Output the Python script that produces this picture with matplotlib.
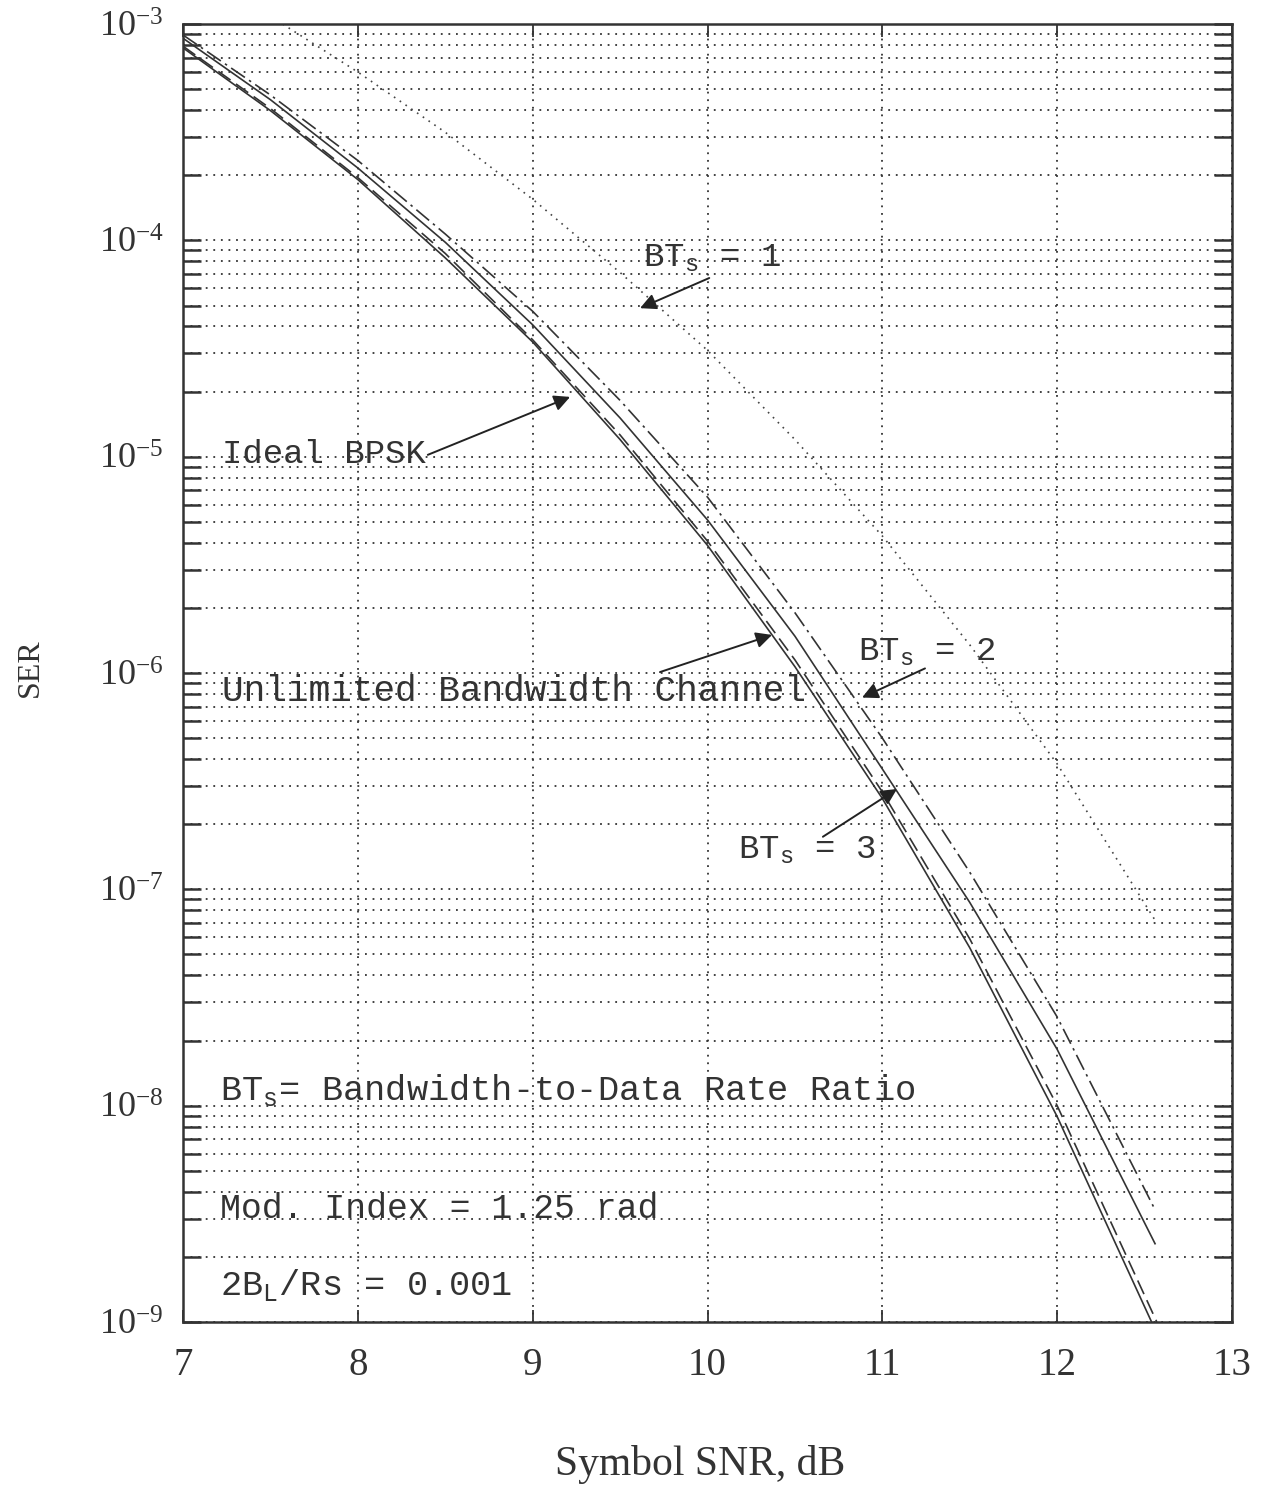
import numpy as np
import matplotlib
matplotlib.use('Agg')
import matplotlib.pyplot as plt
import matplotlib.ticker as mticker

plt.rcParams['font.family'] = ['Liberation Serif', 'DejaVu Serif']
plt.rcParams['mathtext.fontset'] = 'custom'
plt.rcParams['mathtext.rm'] = 'Liberation Serif'
plt.rcParams['axes.unicode_minus'] = False

# 曲线数据 (Symbol SNR dB -> SER)
snr = [7, 7.5, 8, 8.5, 9, 9.5, 10, 10.5, 11, 11.5, 12]
snr_ideal = snr + [12.54]
ser_ideal = [7.76e-4, 3.98e-4, 1.91e-4, 8.3e-5, 3.39e-5, 1.20e-5, 3.89e-6, 1.07e-6,
             2.63e-7, 5.37e-8, 8.9e-9, 1.0e-9]
snr_unlim = snr + [12.57]
ser_unlim = [7.9e-4, 4.07e-4, 1.95e-4, 8.7e-5, 3.47e-5, 1.26e-5, 4.07e-6, 1.15e-6,
             2.82e-7, 5.9e-8, 1.0e-8, 1.0e-9]
snr_bt3 = snr + [12.56]
ser_bt3 = [8.6e-4, 4.47e-4, 2.16e-4, 9.8e-5, 4.07e-5, 1.51e-5, 5.1e-6, 1.48e-6,
           3.6e-7, 8.7e-8, 1.82e-8, 2.3e-9]
snr_bt2 = snr + [12.56]
ser_bt2 = [8.9e-4, 4.7e-4, 2.34e-4, 1.07e-4, 4.7e-5, 1.82e-5, 6.5e-6, 1.9e-6,
           5.0e-7, 1.2e-7, 2.57e-8, 3.3e-9]
snr_bt1 = [7.57, 8, 8.5, 9, 9.5, 10, 10.5, 11, 11.5, 12, 12.56]
ser_bt1 = [1.0e-3, 6.0e-4, 3.16e-4, 1.55e-4, 7.1e-5, 3.1e-5, 1.2e-5, 4.3e-6,
           1.35e-6, 3.8e-7, 7.2e-8]

x_ticks = [7, 8, 9, 10, 11, 12, 13]

fig = plt.figure(figsize=(12.65, 14.86), dpi=100)
ax = fig.add_axes([0.1447, 0.1104, 0.8292, 0.8734])

lw = 1.2
ax.plot(snr_ideal, ser_ideal, color='#333333', linestyle='-', linewidth=lw)
ax.plot(snr_unlim, ser_unlim, color='#333333', linestyle=(0, (9, 4)), linewidth=lw)
ax.plot(snr_bt3, ser_bt3, color='#333333', linestyle='-', linewidth=lw)
ax.plot(snr_bt2, ser_bt2, color='#333333', linestyle=(0, (10, 3, 1.5, 3)), linewidth=lw)
ax.plot(snr_bt1, ser_bt1, color='#444444', linestyle=(0, (1, 3.2)), linewidth=1.2)

ax.set_yscale('log')
ax.set_xlim(7, 13)
ax.set_ylim(1e-9, 1e-3)
ax.set_xticks(x_ticks)
ax.yaxis.set_major_locator(mticker.LogLocator(base=10, numticks=10))
ax.yaxis.set_minor_locator(mticker.LogLocator(base=10, subs=np.arange(2, 10), numticks=20))
ax.yaxis.set_minor_formatter(mticker.NullFormatter())

# 点状网格
ax.grid(True, which='both', axis='y', color='#333333', linestyle=(0, (1, 3.2)), linewidth=1.3)
ax.grid(True, which='major', axis='x', color='#333333', linestyle=(0, (1, 3.2)), linewidth=1.3)

for s in ax.spines.values():
    s.set_linewidth(1.8)
    s.set_color('#333333')

ax.tick_params(axis='y', which='both', direction='in', length=13, width=1.8,
               left=True, right=True, labelsize=26, pad=14, colors='#333333')
ax.tick_params(axis='x', which='major', direction='in', length=9, width=1.3,
               top=True, bottom=True, labelsize=28, pad=18, colors='#333333')

# 坐标轴标题
fig.text(0.5533, 1 - 1465 / 1486, 'Symbol SNR, dB', fontsize=30, color='#333333',
         ha='center', va='center')
fig.text(30 / 1265, 1 - 668 / 1486, 'SER', fontsize=23, color='#333333',
         ha='center', va='center', rotation=90)

# 文字标注
mono = ['Liberation Mono', 'DejaVu Sans Mono']
tc = '#333333'
fs = 25.5
ax.text(9.63, 8.3e-5, r'BT$_\mathregular{s}$ = 1', family=mono, fontsize=24.5, color=tc, va='center')
ax.text(7.223, 1.02e-5, 'Ideal BPSK', family=mono, fontsize=24.5, color=tc, va='center')
ax.text(7.223, 8.2e-7, 'Unlimited Bandwidth Channel', family=mono, fontsize=26, color=tc, va='center')
ax.text(10.861, 1.25e-6, r'BT$_\mathregular{s}$ = 2', family=mono, fontsize=24.5, color=tc, va='center')
ax.text(10.175, 1.52e-7, r'BT$_\mathregular{s}$ = 3', family=mono, fontsize=24.5, color=tc, va='center')
ax.text(7.21, 1.18e-8, r'BT$_\mathregular{s}$= Bandwidth-to-Data Rate Ratio', family=mono, fontsize=fs, color=tc, va='center')
ax.text(7.21, 3.36e-9, 'Mod. Index = 1.25 rad', family=mono, fontsize=25, color=tc, va='center')
ax.text(7.21, 1.48e-9, r'2B$_\mathregular{L}$/Rs = 0.001', family=mono, fontsize=fs, color=tc, va='center')

# 箭头
arrow = dict(arrowstyle='-|>', color='#222222', lw=1.4, mutation_scale=24, shrinkA=0, shrinkB=0)
ax.annotate('', xy=(9.614, 4.86e-5), xytext=(10.01, 6.7e-5), arrowprops=arrow)
ax.annotate('', xy=(9.214, 1.89e-5), xytext=(8.40, 1.02e-5), arrowprops=arrow)
ax.annotate('', xy=(10.369, 1.5e-6), xytext=(9.728, 1.01e-6), arrowprops=arrow)
ax.annotate('', xy=(10.884, 7.7e-7), xytext=(11.244, 1.05e-6), arrowprops=arrow)
ax.annotate('', xy=(11.084, 2.91e-7), xytext=(10.66, 1.75e-7), arrowprops=arrow)

plt.savefig('out.png', dpi=100)
plt.close()
